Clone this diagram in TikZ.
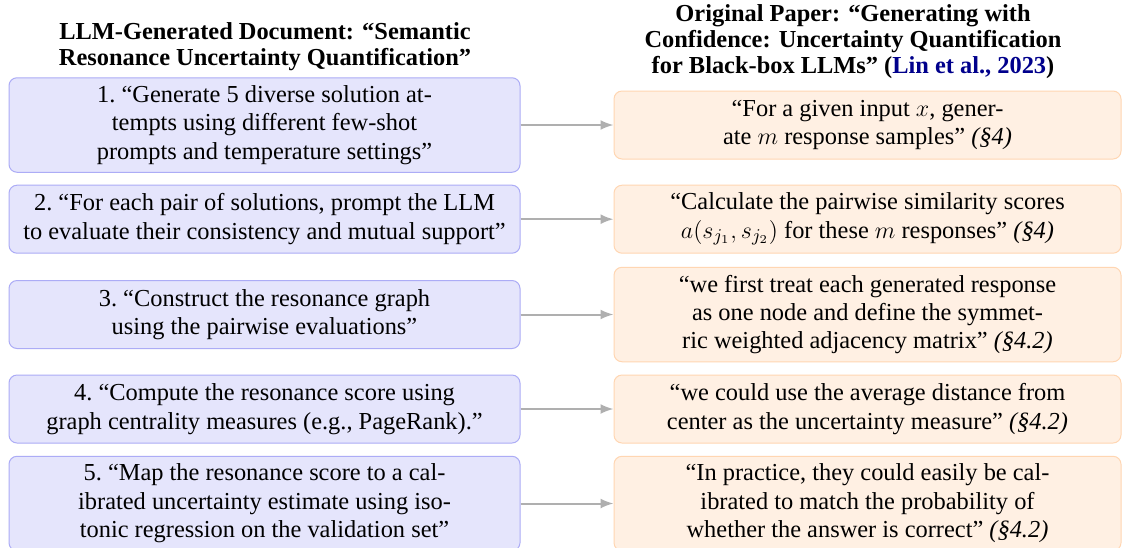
\documentclass[tikz,border=0pt]{standalone}
\usepackage{fontspec}
\setmainfont{Liberation Serif}
\usetikzlibrary{arrows.meta}
\definecolor{lfill}{RGB}{229,229,252}
\definecolor{ldraw}{RGB}{172,172,246}
\definecolor{rfill}{RGB}{255,240,227}
\definecolor{rdraw}{RGB}{255,214,178}
\definecolor{arrgray}{RGB}{175,175,175}
\definecolor{citeblue}{RGB}{0,0,140}
\begin{document}
\begin{tikzpicture}[x=0.5pt,y=-0.5pt,
  boxbase/.style={line width=0.5pt, rounded corners=4pt, align=center, inner sep=0pt,
    font=\fontsize{12.2}{14.2}\selectfont},
  leftbox/.style={boxbase, draw=ldraw, fill=lfill, minimum width=255.5pt},
  rightbox/.style={boxbase, draw=rdraw, fill=rfill, minimum width=253.5pt},
  two/.style={minimum height=34pt},
  three/.style={minimum height=47.25pt},
  titletext/.style={align=center, inner sep=0pt, font=\bfseries\fontsize{12.2}{13}\selectfont},
  link/.style={draw=arrgray, line width=1pt, -{Latex[length=6.5pt,width=5pt]}}
]
\clip (0,0) rectangle (1122,547);
\fill[white] (0,0) rectangle (1122,547);

\node[titletext] (tl) at (265,46.5) {LLM-Generated Document: “Semantic\\Resonance Uncertainty Quantification”};
\node[titletext] (tr) at (853,42) {Original Paper: “Generating with\\Confidence: Uncertainty Quantification\\for Black-box LLMs” ({\color{citeblue}Lin et al., 2023})};

\node[leftbox,three] (l1) at (264.5,125) {1.\ “Generate 5 diverse solution at-\\tempts using different few-shot\\prompts and temperature settings”};
\node[rightbox,two] (r1) at (867.5,125) {“For a given input $x$, gener-\\ate $m$ response samples” \textit{(§4)}};

\node[leftbox,two] (l2) at (264.5,219.2) {2.\ “For each pair of solutions, prompt the LLM\\to evaluate their consistency and mutual support”};
\node[rightbox,two] (r2) at (867.5,219.2) {“Calculate the pairwise similarity scores\\$a(s_{j_1}, s_{j_2})$ for these $m$ responses” \textit{(§4)}};

\node[leftbox,two] (l3) at (264.5,314.5) {3.\ “Construct the resonance graph\\using the pairwise evaluations”};
\node[rightbox,three] (r3) at (867.5,314.5) {“we first treat each generated response\\as one node and define the symmet-\\ric weighted adjacency matrix” \textit{(§4.2)}};

\node[leftbox,two] (l4) at (264.5,409) {4.\ “Compute the resonance score using\\graph centrality measures (e.g., PageRank).”};
\node[rightbox,two] (r4) at (867.5,409) {“we could use the average distance from\\center as the uncertainty measure” \textit{(§4.2)}};

\node[leftbox,three] (l5) at (264.5,503.5) {5.\ “Map the resonance score to a cal-\\ibrated uncertainty estimate using iso-\\tonic regression on the validation set”};
\node[rightbox,three] (r5) at (867.5,503.5) {“In practice, they could easily be cal-\\ibrated to match the probability of\\whether the answer is correct” \textit{(§4.2)}};

\foreach \i in {1,...,5} {
  \draw[link] (l\i.east) -- (r\i.west);
}
\end{tikzpicture}
\end{document}
